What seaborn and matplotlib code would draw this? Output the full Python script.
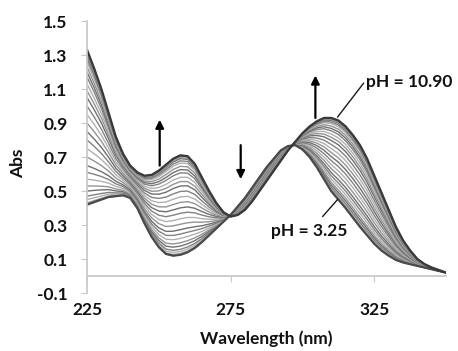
import numpy as np
import pandas as pd
import seaborn as sns
import matplotlib.pyplot as plt

# wavelength grid (nm), 2.5 nm steps
wavelength = [225, 227.5, 230, 232.5, 235, 237.5, 240, 242.5, 245, 247.5, 250, 252.5, 255,
              257.5, 260, 262.5, 265, 267.5, 270, 272.5, 275, 277.5, 280, 282.5, 285, 287.5,
              290, 292.5, 295, 297.5, 300, 302.5, 305, 307.5, 310, 312.5, 315, 317.5, 320,
              322.5, 325, 327.5, 330, 332.5, 335, 337.5, 340, 342.5, 345, 347.5, 350]

# end spectra
abs_ph_325 = [0.42, 0.435, 0.45, 0.465, 0.47, 0.475, 0.46, 0.40, 0.31, 0.23, 0.17, 0.13, 0.12,
              0.125, 0.14, 0.165, 0.20, 0.24, 0.28, 0.32, 0.36, 0.41, 0.46, 0.52, 0.58, 0.64,
              0.69, 0.74, 0.765, 0.77, 0.745, 0.70, 0.64, 0.57, 0.50, 0.45, 0.40, 0.345, 0.29,
              0.24, 0.19, 0.15, 0.12, 0.095, 0.08, 0.07, 0.06, 0.05, 0.04, 0.03, 0.02]
abs_ph_1090 = [1.33, 1.22, 1.10, 0.96, 0.82, 0.72, 0.65, 0.61, 0.59, 0.595, 0.62, 0.655, 0.69,
               0.71, 0.705, 0.66, 0.58, 0.50, 0.43, 0.375, 0.35, 0.36, 0.39, 0.44, 0.50, 0.56,
               0.62, 0.68, 0.74, 0.79, 0.84, 0.88, 0.91, 0.93, 0.93, 0.915, 0.88, 0.83, 0.77,
               0.69, 0.59, 0.49, 0.39, 0.29, 0.21, 0.15, 0.10, 0.07, 0.05, 0.035, 0.02]

# absorbance at 225 nm of each spectrum in the titration (low pH -> high pH)
abs_at_225 = [0.42, 0.43, 0.45, 0.47, 0.50, 0.53, 0.57, 0.61, 0.65, 0.70, 0.75, 0.80, 0.85, 0.90,
              0.95, 1.00, 1.05, 1.09, 1.13, 1.17, 1.20, 1.23, 1.26, 1.28, 1.30, 1.31, 1.32, 1.33]

sns.set_theme(style="ticks")
plt.rcParams['font.family'] = ['Lato', 'DejaVu Sans']
plt.rcParams['font.weight'] = 'bold'

wl = np.array(wavelength)
lo = np.array(abs_ph_325)
hi = np.array(abs_ph_1090)

# each intermediate spectrum is a mix of the two end forms (isosbestic points)
rows = []
for i, a in enumerate(abs_at_225):
    f = (a - lo[0]) / (hi[0] - lo[0])
    for w, v in zip(wl, lo + f * (hi - lo)):
        rows.append((i, w, v))
df = pd.DataFrame(rows, columns=['curve', 'wavelength', 'Abs'])

n = len(abs_at_225)
grays = ['#6f6f6f', '#939393', '#b0b0b0', '#828282']
pal = [grays[i % len(grays)] for i in range(n)]

fig, ax = plt.subplots(figsize=(4.58, 3.51), dpi=100)
fig.subplots_adjust(left=0.19, right=0.974, top=0.94, bottom=0.165)

sns.lineplot(data=df, x='wavelength', y='Abs', hue='curve', palette=pal,
             legend=False, estimator=None, linewidth=1.0, ax=ax)
sns.lineplot(x=wl, y=lo, color='#4a4a4a', linewidth=1.6, ax=ax)
sns.lineplot(x=wl, y=hi, color='#3a3a3a', linewidth=1.7, ax=ax)

ax.set_xlim(225, 350)
ax.set_ylim(-0.1, 1.5)
ax.set_xticks([225, 275, 325])
yt = np.round(np.arange(-0.1, 1.51, 0.2), 1)
ax.set_yticks(yt)
ax.set_yticklabels([f'{v:.1f}' for v in yt])

for s in ['top', 'right']:
    ax.spines[s].set_visible(False)
ax.spines['left'].set_color('#c8c8c8')
ax.spines['bottom'].set_color('#c8c8c8')
ax.spines['bottom'].set_position(('data', 0))

ax.tick_params(axis='y', length=4, width=0.8, color='#c8c8c8', pad=10,
               labelsize=12.5, labelcolor='#111111')
ax.tick_params(axis='x', length=4, width=0.8, color='#c8c8c8', pad=15,
               labelsize=12.5, labelcolor='#111111')

ax.set_xlabel('Wavelength (nm)', fontsize=12.5, fontweight='bold', color='#111111', va='center')
ax.xaxis.set_label_coords(0.5, -0.169)
ax.set_ylabel('Abs', fontsize=12.5, fontweight='bold', color='#111111', va='center')
ax.yaxis.set_label_coords(-0.192, 0.478)

arrow = dict(arrowstyle='-|>', color='black', lw=1.6, mutation_scale=12, shrinkA=0, shrinkB=0)
ax.annotate('', xy=(250.3, 0.92), xytext=(250.3, 0.65), arrowprops=arrow)
ax.annotate('', xy=(278.5, 0.57), xytext=(278.5, 0.77), arrowprops=arrow)
ax.annotate('', xy=(304.5, 1.18), xytext=(304.5, 0.93), arrowprops=arrow)

ax.plot([312.2, 321.3], [0.935, 1.135], color='#1a1a1a', lw=1.0)
ax.text(322, 1.14, 'pH = 10.90', ha='left', va='center', fontsize=12.5,
        fontweight='bold', color='#111111', clip_on=False)
ax.plot([307, 312.2], [0.35, 0.45], color='#1a1a1a', lw=1.0)
ax.text(302.5, 0.265, 'pH = 3.25', ha='center', va='center', fontsize=12.5,
        fontweight='bold', color='#111111')

fig.savefig('out.png', dpi=100)
